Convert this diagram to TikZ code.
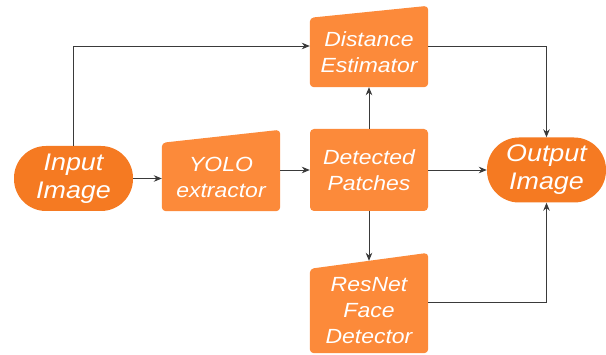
\documentclass[tikz,border=0pt]{standalone}
\usepackage{fontspec}
\setmainfont{Liberation Sans}
\newfontfamily\widesans[FakeStretch=1.12]{Liberation Sans}
\usetikzlibrary{arrows.meta,calc}
\definecolor{termfill}{HTML}{F57A22}
\definecolor{procfill}{HTML}{FC8A3A}
\definecolor{linegray}{HTML}{3A3A3A}
\begin{document}
\begin{tikzpicture}[x=1pt,y=-1pt,
  term/.style={fill=termfill, rounded corners=32pt, minimum width=119pt, minimum height=65pt,
    inner sep=0pt, align=center, text=white, font=\widesans\fontsize{24}{28}\selectfont\itshape},
  proc/.style={fill=procfill, rounded corners=4pt, minimum width=118pt, minimum height=82pt,
    inner sep=0pt, align=center, text=white, font=\widesans\fontsize{20.5}{26}\selectfont\itshape},
  slanted/.style={minimum width=118pt, inner sep=0pt, align=center, text=white,
    font=\widesans\fontsize{20.5}{26}\selectfont\itshape},
  link/.style={draw=linegray, line width=0.8pt, -{Stealth[length=8pt,width=6.5pt]}}
]
\useasboundingbox (0,0) rectangle (606,355);

% terminals
\node[term] (in) at (73.5,178.5) {Input\\Image};
\node[term] (out) at (546.5,170) {Output\\Image};

% process box
\node[proc] (dp) at (369,170) {Detected\\Patches};

% manual-input style boxes: the node covers the lower rectangular part,
% the slanted top is added above it
\node[slanted, minimum height=68pt] (yolo) at (221,177) {};
\fill[procfill, rounded corners=4pt] (yolo.south west) -- (yolo.north west)
  -- ($(yolo.north east)+(0,-13)$) -- (yolo.south east) -- cycle;
\node[slanted, minimum height=68pt] at (yolo) {YOLO\\extractor};

\node[slanted, minimum height=69pt] (dist) at (369,52.5) {};
\fill[procfill, rounded corners=4pt] (dist.south west) -- (dist.north west)
  -- ($(dist.north east)+(0,-12)$) -- (dist.south east) -- cycle;
\node[slanted, minimum height=69pt] at (dist) {Distance\\Estimator};

\node[slanted, minimum height=84pt] (res) at (369,311) {};
\fill[procfill, rounded corners=4pt] (res.south west) -- (res.north west)
  -- ($(res.north east)+(0,-16)$) -- (res.south east) -- cycle;
\node[slanted, minimum height=84pt] at (res) {ResNet\\Face\\Detector};
\coordinate (restop) at ($(res.north)+(0,-8)$);

% connectors
\draw[link] (in.north) |- (dist.west |- 0,46);
\draw[link] (in.east) -- (yolo.west |- in.east);
\draw[link] (yolo.east |- dp.west) -- (dp.west);
\draw[link] (dp.north) -- (dist.south);
\draw[link] (dp.south) -- (restop);
\draw[link] (dp.east) -- (out.west);
\draw[link] (dist.east |- 0,46) -| (out.north);
\draw[link] (res.east |- 0,302) -| (out.south);
\end{tikzpicture}
\end{document}
